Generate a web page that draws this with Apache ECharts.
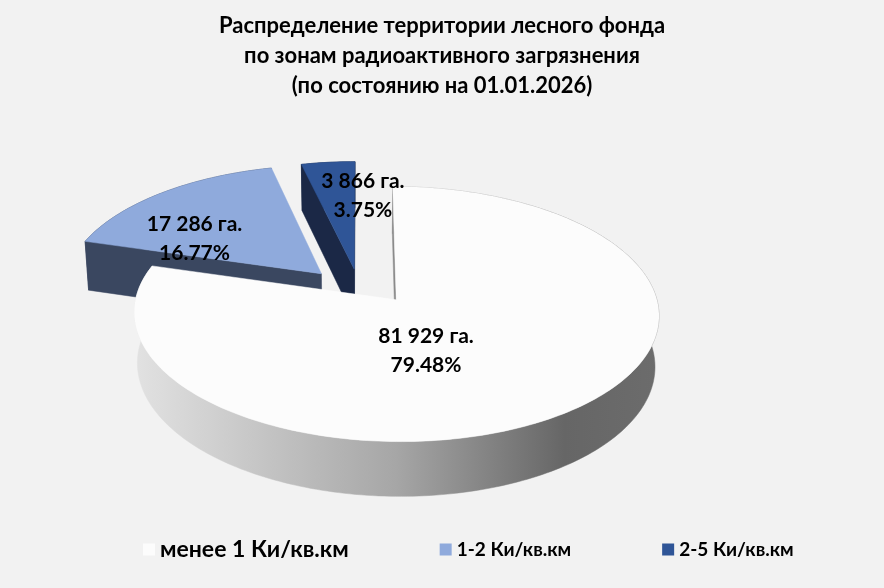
<!DOCTYPE html>
<html lang="ru">
<head>
    <meta charset="UTF-8">
    <title>Распределение территории лесного фонда</title>
    <script src="https://cdn.jsdelivr.net/npm/echarts@6/dist/echarts.min.js"></script>
    <style>
        html, body { margin: 0; padding: 0; background: #F2F2F2; }
        #main { width: 884px; height: 588px; }
    </style>
</head>
<body>
<div id="main"></div>
<script type="text/javascript">
    // данные
    var categories = ['менее 1 Ки/кв.км', '1-2 Ки/кв.км', '2-5 Ки/кв.км'];
    var areas = [81929, 17286, 3866];
    var unit = 'га.';

    var FONT = 'Lato, "Noto Sans", sans-serif';
    var topColors = ['#FCFCFC', '#8FAADC', '#2F5597'];
    var sideColors = [{
        type: 'linear', x: 0, y: 0, x2: 1, y2: 0,
        colorStops: [
            { offset: 0, color: '#E2E2E2' },
            { offset: 0.5, color: '#A6A6A6' },
            { offset: 0.82, color: '#666666' },
            { offset: 1, color: '#6C6C6C' }
        ]
    }, '#3A4760', '#1B2846'];
    // подписи: угол (град.) и доля радиуса от вершины сектора
    var labelAt = [[165, 0.4], [300, 0.6], [3, 0.66]];

    // геометрия объёмной диаграммы
    var START = 0;
    var CAM_D = 8, FOCAL = 2060, TILT = 28.5 * Math.PI / 180;
    var CX = 361, CY = 286, HEIGHT = 0.225, EXPLODE = 0.225, EXPLODE_V = 0.62;
    var sa = Math.sin(TILT), ca = Math.cos(TILT);

    function P(u, v, w) {
        var Y = v * sa + w * ca;
        var Z = CAM_D + v * ca - w * sa;
        return [CX + FOCAL * u / Z, CY - FOCAL * Y / Z];
    }

    var total = areas.reduce(function (a, b) { return a + b; }, 0);
    var acc = 0;
    var slices = areas.map(function (v) {
        var t0 = START + acc / total * Math.PI * 2;
        acc += v;
        var t1 = START + acc / total * Math.PI * 2;
        var m = (t0 + t1) / 2;
        return {
            t0: t0, t1: t1,
            ou: EXPLODE * Math.sin(m),
            ov: EXPLODE * EXPLODE_V * Math.cos(m)
        };
    });
    // дальние секторы рисуются первыми
    var order = slices.map(function (s, i) { return i; })
        .sort(function (a, b) { return slices[b].ov - slices[a].ov; });

    function fmt(n) {
        return String(n).replace(/\B(?=(\d{3})+(?!\d))/g, ' ');
    }

    function faceVisible(nu, nv, s) {
        return nu * (0 - s.ou) + nv * (-CAM_D * ca - s.ov) > 0;
    }

    function poly(points, fill) {
        return {
            type: 'polygon',
            shape: { points: points },
            style: { fill: fill, stroke: fill, lineWidth: 0.5 }
        };
    }

    function renderSlice(params, api) {
        var i = params.seriesIndex;
        var s = slices[i];
        var N = Math.max(8, Math.ceil((s.t1 - s.t0) / 0.02));
        var topArc = [], botArc = [];
        for (var k = 0; k <= N; k++) {
            var t = s.t0 + (s.t1 - s.t0) * k / N;
            var u = s.ou + Math.sin(t), v = s.ov + Math.cos(t);
            topArc.push(P(u, v, 0));
            botArc.push(P(u, v, -HEIGHT));
        }
        var apexT = P(s.ou, s.ov, 0), apexB = P(s.ou, s.ov, -HEIGHT);
        var edge = i === 0 ? '#8A8A8A' : sideColors[i];
        var children = [];
        children.push(poly(topArc.concat(botArc.slice().reverse()), sideColors[i]));
        if (faceVisible(-Math.cos(s.t0), Math.sin(s.t0), s)) {
            children.push(poly([apexT, topArc[0], botArc[0], apexB], edge));
        }
        if (faceVisible(Math.cos(s.t1), -Math.sin(s.t1), s)) {
            children.push(poly([apexT, topArc[N], botArc[N], apexB], edge));
        }
        children.push(poly([apexT].concat(topArc), topColors[i]));
        return { type: 'group', children: children };
    }

    function renderLabel(params, api) {
        var i = params.dataIndex;
        var s = slices[i];
        var la = labelAt[i][0] * Math.PI / 180, lr = labelAt[i][1];
        var lp = P(s.ou + lr * Math.sin(la), s.ov + lr * Math.cos(la), 0);
        return {
            type: 'text',
            style: {
                text: fmt(areas[i]) + ' ' + unit + '\n' + (areas[i] / total * 100).toFixed(2) + '%',
                x: lp[0], y: lp[1],
                align: 'center', verticalAlign: 'middle',
                fontFamily: FONT, fontWeight: 'bold', fontSize: 21,
                lineHeight: 29, fill: '#000000'
            }
        };
    }

    var series = categories.map(function (name, i) {
        return {
            name: name,
            type: 'custom',
            coordinateSystem: 'none',
            renderItem: renderSlice,
            itemStyle: { color: topColors[i] },
            z: 2 + order.indexOf(i),
            silent: true,
            data: [areas[i]]
        };
    });
    series.push({
        type: 'custom',
        coordinateSystem: 'none',
        renderItem: renderLabel,
        z: 10,
        silent: true,
        data: areas
    });

    var chart = echarts.init(document.getElementById('main'));
    chart.setOption({
        backgroundColor: '#F2F2F2',
        animation: false,
        title: {
            text: 'Распределение территории лесного фонда\nпо зонам радиоактивного загрязнения\n(по состоянию на 01.01.2026)',
            left: 'center',
            top: 6,
            textStyle: {
                fontFamily: FONT, fontWeight: 'bold', fontSize: 22,
                lineHeight: 30, color: '#000000'
            }
        },
        legend: {
            data: categories,
            left: 138,
            top: 533,
            icon: 'rect',
            itemWidth: 12,
            itemHeight: 12,
            itemGap: 91,
            formatter: function (name) {
                return name === categories[0] ? '{big|' + name + '}' : '{small|' + name + '}';
            },
            textStyle: {
                fontFamily: FONT, fontWeight: 'bold', color: '#000000',
                rich: {
                    big: { fontFamily: FONT, fontWeight: 'bold', fontSize: 23, color: '#000000' },
                    small: { fontFamily: FONT, fontWeight: 'bold', fontSize: 19, color: '#000000' }
                }
            }
        },
        series: series
    });
</script>
</body>
</html>
